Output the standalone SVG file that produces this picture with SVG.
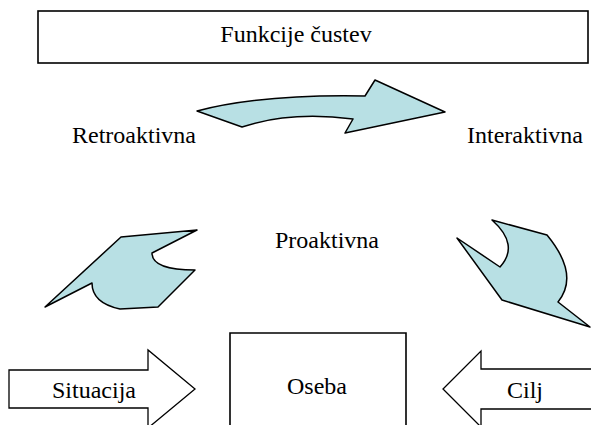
<svg xmlns="http://www.w3.org/2000/svg" width="591" height="425" viewBox="0 0 591 425">
<style>
text{font-family:'Liberation Serif','Times New Roman',serif;font-size:24px;fill:#000}
.box{fill:#fff;stroke:#000;stroke-width:1.6}
.blob{fill:#b8e0e4;stroke:#000;stroke-width:1.5;stroke-linejoin:round}
.arr{fill:#fff;stroke:#000;stroke-width:1.3}
</style>
<rect width="591" height="425" fill="#fff"/>
<g id="funkcije">
<rect class="box" x="38" y="11" width="550" height="52"/>
<text x="296" y="42" text-anchor="middle">Funkcije čustev</text>
</g>
<g id="retroaktivna"><text x="72" y="143">Retroaktivna</text></g>
<g id="interaktivna"><text x="467" y="143">Interaktivna</text></g>
<g id="proaktivna"><text x="275" y="248">Proaktivna</text></g>
<g id="oseba">
<path class="box" d="M230,426 V333 H406 V426"/>
<text x="317" y="394" text-anchor="middle">Oseba</text>
</g>
<g id="situacija">
<path class="arr" d="M9,370 H148 V350 L195,389 L148,428 V408 H9 Z"/>
<text x="52" y="398">Situacija</text>
</g>
<g id="cilj">
<path class="arr" d="M595,369 H481 V351 L443,389 L481,427 V409 H595"/>
<text x="507" y="398">Cilj</text>
</g>
<g id="connectors">
<path class="blob" d="M197,111 Q262,94 365,96 L375,80 L445,112 L345,133 L353,119 Q290,111 242,127 Z"/>
<path class="blob" d="M121,237 L197,230 L152,253 Q152,270 195,270 L158,307 L120,309 Q92,303 92,283 L45,307 Z"/>
<path class="blob" d="M457,238 L500,267 Q520,245 492,220 L547,235 Q580,275 558,302 L590,327 L502,300 Z"/>
</g>
</svg>
